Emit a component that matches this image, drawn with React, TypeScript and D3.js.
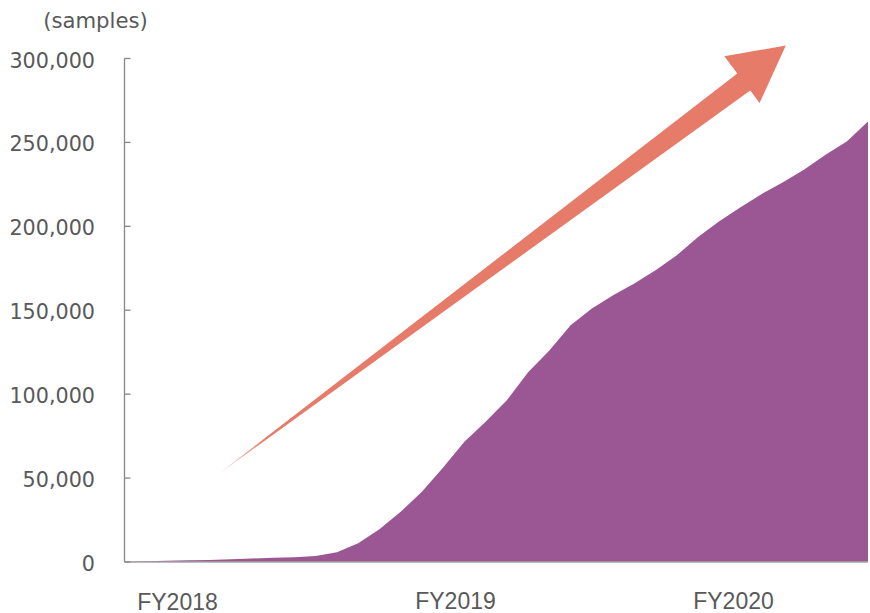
import React from "react";
import * as d3 from "d3";

// Cumulative sample count, one value per month (Apr 2018 – Mar 2021)
const monthIndex: number[] = Array.from({ length: 36 }, (_, i) => i);
const cumulativeSamples: number[] = [
  200, 500, 800, 1000, 1200, 1600, 2100, 2500, 2800, 3600,
  5800, 11100, 19500, 29900, 41800, 56300, 71600, 83500, 96400, 113000,
  126000, 141000, 151000, 159000, 166000, 173800, 182700, 193600, 203000, 211300,
  219300, 226200, 233900, 242600, 250600, 262500,
];
const yTicks: number[] = [0, 50000, 100000, 150000, 200000, 250000, 300000];
const fiscalYearLabels: string[] = ["FY2018", "FY2019", "FY2020"];
const unitLabel = "(samples)";

// Growth arrow, expressed in data space: [month index, samples]
const arrowTail: [number, number] = [4.42, 52400];
const arrowTip: [number, number] = [31.13, 307700];

const W = 870;
const H = 613;
const left = 124.5;
const right = 868;
const top = 58.5;
const bottom = 562;

export default function App() {
  const x = d3.scaleLinear().domain([0, monthIndex.length - 1]).range([left, right]);
  const y = d3.scaleLinear().domain([0, 300000]).range([bottom, top]);

  const area = d3
    .area<number>()
    .x((_, i) => x(monthIndex[i]))
    .y0(y(0))
    .y1((d) => y(d))
    .curve(d3.curveLinear);

  // Arrow geometry: tapered shaft ending in a triangular head
  const tx = x(arrowTail[0]);
  const ty = y(arrowTail[1]);
  const px = x(arrowTip[0]);
  const py = y(arrowTip[1]);
  const len = Math.hypot(px - tx, py - ty);
  const ux = (px - tx) / len;
  const uy = (py - ty) / len;
  const nx = -uy;
  const ny = ux;
  const pt = (along: number, perp: number) =>
    [px + ux * along + nx * perp, py + uy * along + ny * perp] as [number, number];
  const headLen = 55.5;
  const arrowPts: [number, number][] = [
    [tx, ty],
    pt(-headLen, -7),
    pt(-headLen, -28.5),
    pt(0, 0),
    pt(-headLen, 30),
    pt(-headLen, 14.5),
  ];
  const arrowPath = d3.line()(arrowPts) + "Z";

  const fyX = (k: number) => 177.5 + k * 278;
  const fyBaseline = [609.5, 608.5, 608.5];

  return (
    <svg
      width={W}
      height={H}
      style={{ position: "fixed", left: 0, top: 0, background: "#ffffff" }}
    >
      <defs>
        <linearGradient
          id="arrowFade"
          gradientUnits="userSpaceOnUse"
          x1={tx}
          y1={ty}
          x2={tx + ux * 60}
          y2={ty + uy * 60}
        >
          <stop offset="0" stopColor="#e67b69" stopOpacity={0.3} />
          <stop offset="1" stopColor="#e67b69" stopOpacity={1} />
        </linearGradient>
      </defs>

      <path d={area(cumulativeSamples) ?? ""} fill="#9b5794" />

      {/* axes */}
      <line x1={left} x2={right} y1={bottom} y2={bottom} stroke="#a6a6a6" strokeWidth={1.5} />
      <line x1={left} x2={left} y1={top} y2={bottom} stroke="#868686" strokeWidth={1.3} />
      {yTicks.map((t) => (
        <g key={t}>
          <line x1={left} x2={left + 6} y1={y(t)} y2={y(t)} stroke="#868686" strokeWidth={1.3} />
          <text
            x={95}
            y={y(t) + 2}
            textAnchor="end"
            dominantBaseline="central"
            fontFamily="DejaVu Sans, sans-serif"
            fontSize={20.7}
            fill="#595959"
          >
            {d3.format(",")(t)}
          </text>
        </g>
      ))}

      <text
        x={95.5}
        y={20}
        textAnchor="middle"
        dominantBaseline="central"
        fontFamily="DejaVu Sans, sans-serif"
        fontSize={21.2}
        fill="#595959"
      >
        {unitLabel}
      </text>

      {fiscalYearLabels.map((lab, k) => (
        <text
          key={lab}
          x={fyX(k)}
          y={fyBaseline[k]}
          textAnchor="middle"
          fontFamily="Liberation Sans, Arial, sans-serif"
          fontSize={23}
          fill="#595959"
        >
          {lab}
        </text>
      ))}

      <path d={arrowPath} fill="url(#arrowFade)" />
    </svg>
  );
}
